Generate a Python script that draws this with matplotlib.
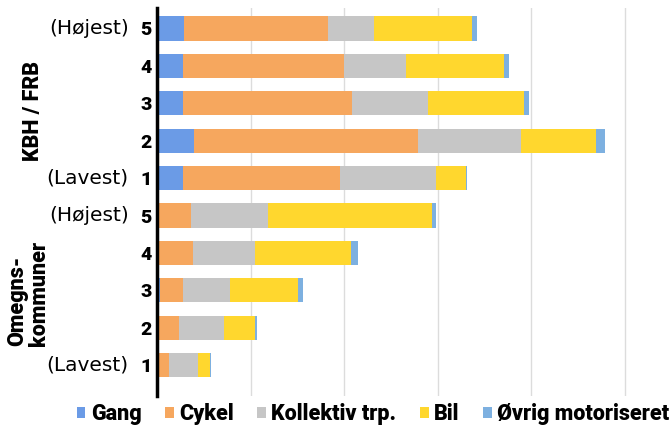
import matplotlib
matplotlib.use("Agg")
import matplotlib.pyplot as plt
from matplotlib.patches import Patch
import numpy as np

plt.rcParams['font.family'] = ['Roboto', 'DejaVu Sans']

# Rows from top to bottom
groups = ["KBH / FRB", "Omegns-\nkommuner"]
levels = ["5", "4", "3", "2", "1", "5", "4", "3", "2", "1"]
level_notes = {0: "(Højest)", 4: "(Lavest)", 5: "(Højest)", 9: "(Lavest)"}

modes = ["Gang", "Cykel", "Kollektiv trp.", "Bil", "Øvrig motoriseret"]
gang      = [2.9, 2.8, 2.8, 4.0, 2.8, 0.1, 0.1, 0.3, 0.1, 0.1]
cykel     = [15.4, 17.2, 18.1, 23.9, 16.8, 3.5, 3.7, 2.5, 2.2, 1.2]
kollektiv = [4.9, 6.6, 8.1, 11.0, 10.2, 8.3, 6.7, 5.0, 4.9, 3.1]
bil       = [10.5, 10.5, 10.3, 8.1, 3.2, 17.5, 10.3, 7.3, 3.3, 1.3]
ovrig     = [0.5, 0.5, 0.5, 0.9, 0.2, 0.4, 0.7, 0.5, 0.2, 0.1]

colors = ["#6B9BE6", "#F6A75E", "#C6C6C6", "#FFD72E", "#7DB0E0"]

fig = plt.figure(figsize=(6.7, 4.32), dpi=100)
ax = fig.add_axes([157/670, 1-396/432, 1-157/670, (396-8)/432])

series = [gang, cykel, kollektiv, bil, ovrig]
y = np.arange(len(levels))
left = np.zeros(len(levels))
for vals, col, name in zip(series, colors, modes):
    ax.barh(y, vals, left=left, height=0.65, color=col, label=name, zorder=2)
    left += np.array(vals)

ax.set_ylim(9.826, -0.548)
ax.set_xlim(0, (670-157)/9.35)
ax.set_xticks([10, 20, 30, 40, 50])
ax.set_xticklabels([])
ax.tick_params(axis='x', length=0)
ax.grid(axis='x', color='#DCDCDC', linewidth=1, zorder=0)
for s in ['top', 'right', 'bottom']:
    ax.spines[s].set_visible(False)
ax.spines['left'].set_linewidth(2.5)
ax.spines['left'].set_color('black')

ax.set_yticks(y)
ax.set_yticklabels(levels, fontsize=14, fontweight='black')
ax.tick_params(axis='y', length=0, pad=4)

for i, note in level_notes.items():
    ax.annotate(note, xy=(0, y[i]), xycoords=('axes fraction', 'data'),
                xytext=(-20.5, 0), textcoords='offset points',
                ha='right', va='center', fontsize=14.5,
                family=['DejaVu Sans'])

fig.text(33/670, 1-111/432, groups[0], rotation=90, ha='center', va='center',
         fontsize=15.5, fontweight='black')
fig.text(28/670, 1-293/432, groups[1], rotation=90, ha='center', va='center',
         fontsize=15.5, fontweight='black', multialignment='left', linespacing=0.95)

handles = [Patch(facecolor=c, label=m) for c, m in zip(colors, modes)]
fig.legend(handles=handles, loc='center', bbox_to_anchor=(373/670, 1-414/432),
           ncol=5, frameon=False, handlelength=0.4, handleheight=0.4,
           handletextpad=0.25, columnspacing=1.1,
           prop={'weight': 'black', 'size': 15.5})

fig.savefig("out.png", dpi=100)
